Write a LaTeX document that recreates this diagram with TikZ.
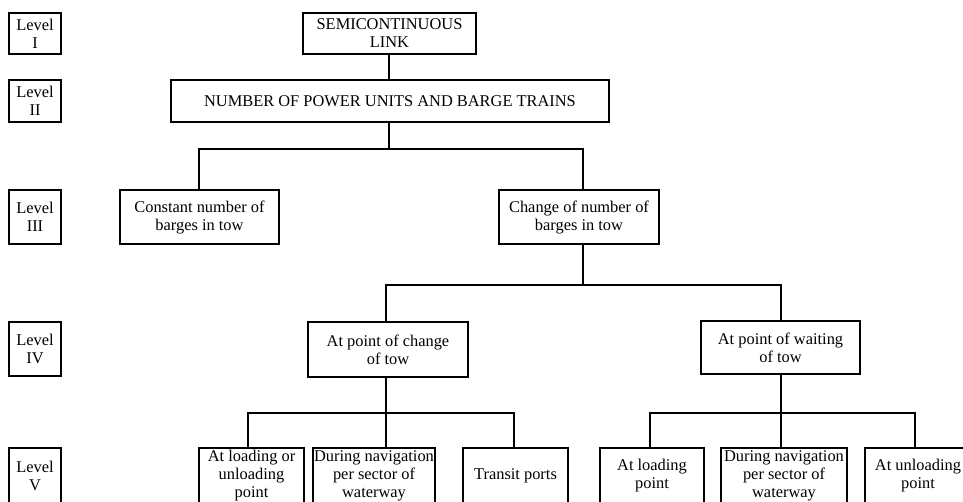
\documentclass[tikz,border=0pt]{standalone}
\usepackage{fontspec}
\setmainfont{Liberation Serif}
\begin{document}
\begin{tikzpicture}[x=1pt,y=-1pt,
  box/.style={draw, line width=1.6pt, inner sep=0pt, align=center,
    font=\fontsize{16.4}{18}\selectfont},
  conn/.style={line width=2pt}]
\useasboundingbox (0,0) rectangle (963,501);
\clip (0,0) rectangle (963,501);
% level labels
\node[box, minimum width=52pt, minimum height=41pt] (l1) at (35,33.5) {Level\\I};
\node[box, minimum width=52pt, minimum height=42pt] (l2) at (35,101) {Level\\II};
\node[box, minimum width=52pt, minimum height=54pt] (l3) at (35,217) {Level\\III};
\node[box, minimum width=52pt, minimum height=54pt] (l4) at (35,349) {Level\\IV};
\node[box, minimum width=52pt, minimum height=56pt] (l5) at (35,476) {Level\\V};
% main boxes
\node[box, minimum width=173pt, minimum height=41pt] (semi) at (389.5,33.5) {SEMICONTINUOUS\\LINK};
\node[box, minimum width=438pt, minimum height=42pt] (num) at (390,101) {NUMBER OF POWER UNITS AND BARGE TRAINS};
\node[box, minimum width=159pt, minimum height=54pt] (const) at (199.5,217) {Constant number of\\barges in tow};
\node[box, minimum width=160pt, minimum height=54pt] (change) at (579,217) {Change of number of\\barges in tow};
\node[box, minimum width=160pt, minimum height=55pt] (atch) at (388,349.5) {At point of change\\of tow};
\node[box, minimum width=159pt, minimum height=53pt] (atw) at (780.5,347.5) {At point of waiting\\of tow};
\node[box, minimum width=105pt, minimum height=56pt] (b1) at (251.5,476) {At loading or\\unloading\\point};
\node[box, minimum width=122pt, minimum height=56pt] (b2) at (374,476) {During navigation\\per sector of\\waterway};
\node[box, minimum width=105pt, minimum height=56pt] (b3) at (515.5,476) {Transit ports};
\node[box, minimum width=104pt, minimum height=56pt] (b4) at (652,476) {At loading\\point};
\node[box, minimum width=126pt, minimum height=56pt] (b5) at (784,476) {During navigation\\per sector of\\waterway};
\node[box, minimum width=106pt, minimum height=56pt] (b6) at (918,476) {At unloading\\point};
% connector coordinates
\coordinate (jA) at (389,149);
\coordinate (c0) at (199,0);
\coordinate (xch) at (583,0);
\coordinate (jB) at (583,285);
\coordinate (jC) at (386,413);
\coordinate (jD) at (781,413);
\coordinate (c1) at (248,0);
\coordinate (c3) at (514,0);
\coordinate (c4) at (650,0);
\coordinate (c6) at (915,0);
% connectors
\draw[conn] (semi.south -| jA) -- (num.north -| jA);
\draw[conn] (num.south -| jA) -- (jA);
\draw[conn] (const.north -| c0) |- (jA) -| (change.north -| xch);
\draw[conn] (change.south -| xch) -- (jB);
\draw[conn] (atch.north -| jC) |- (jB) -| (atw.north -| jD);
\draw[conn] (atch.south -| jC) -- (jC);
\draw[conn] (b1.north -| c1) |- (jC) -| (b3.north -| c3);
\draw[conn] (jC) -- (b2.north -| jC);
\draw[conn] (atw.south -| jD) -- (jD);
\draw[conn] (b4.north -| c4) |- (jD) -| (b6.north -| c6);
\draw[conn] (jD) -- (b5.north -| jD);
\end{tikzpicture}
\end{document}
